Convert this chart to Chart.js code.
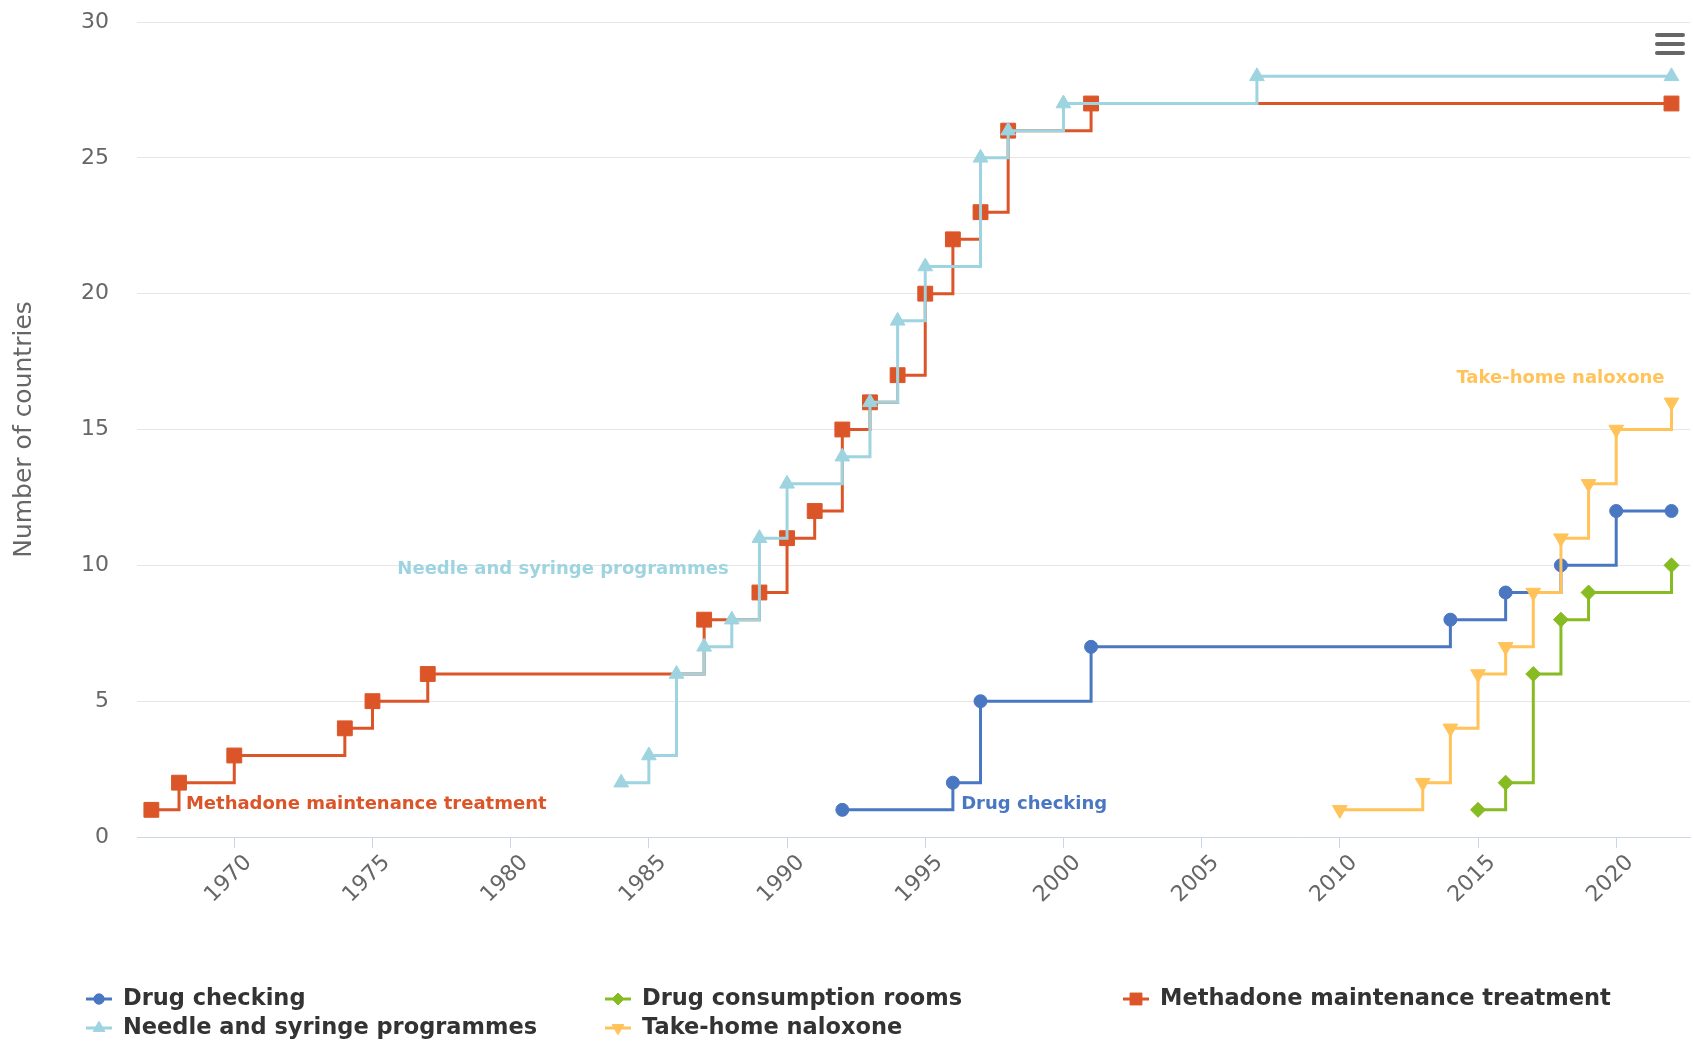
<!DOCTYPE html>
<html>
<head>
<meta charset="utf-8">
<title>Harm reduction interventions</title>
<script src="https://cdn.jsdelivr.net/npm/chart.js@4.4.1/dist/chart.umd.min.js"></script>
<style>
  body { margin: 0; background: #fff; }
  #wrap { width: 1693px; height: 1042px; position: relative; }
</style>
</head>
<body>
<div id="wrap"><canvas id="stepChart"></canvas></div>
<script>
// --- DATA ---
const seriesNames = ['Drug checking', 'Drug consumption rooms', 'Methadone maintenance treatment', 'Needle and syringe programmes', 'Take-home naloxone'];

const drugCheckingYears = [1992, 1996, 1997, 2001, 2014, 2016, 2018, 2020, 2022];
const drugCheckingCounts = [1, 2, 5, 7, 8, 9, 10, 12, 12];

const consumptionRoomYears = [2015, 2016, 2017, 2018, 2019, 2022];
const consumptionRoomCounts = [1, 2, 6, 8, 9, 10];

const methadoneYears = [1967, 1968, 1970, 1974, 1975, 1977, 1987, 1989, 1990, 1991, 1992, 1993, 1994, 1995, 1996, 1997, 1998, 2001, 2022];
const methadoneCounts = [1, 2, 3, 4, 5, 6, 8, 9, 11, 12, 15, 16, 17, 20, 22, 23, 26, 27, 27];

const needleYears = [1984, 1985, 1986, 1987, 1988, 1989, 1990, 1992, 1993, 1994, 1995, 1997, 1998, 2000, 2007, 2022];
const needleCounts = [2, 3, 6, 7, 8, 11, 13, 14, 16, 19, 21, 25, 26, 27, 28, 28];

const naloxoneYears = [2010, 2013, 2014, 2015, 2016, 2017, 2018, 2019, 2020, 2022];
const naloxoneCounts = [1, 2, 4, 6, 7, 9, 11, 13, 15, 16];

const yearTicks = [1970, 1975, 1980, 1985, 1990, 1995, 2000, 2005, 2010, 2015, 2020];
const countTicks = [0, 5, 10, 15, 20, 25, 30];

// --- STYLE ---
const FONT = 'DejaVu Sans';
const colors = ['#4a77c1', '#86bb22', '#dc5528', '#9dd4e0', '#ffc35a'];
const markerStyles = ['circle', 'rectRot', 'rect', 'triangle', 'triangle'];
const markerRadius = [6.5, 7.5, 10.5, 8.5, 8.5];
const markerRotation = [0, 0, 0, 0, 180];

// label teks seri di dalam plot (posisi dalam koordinat data)
const seriesLabels = [
    { series: 0, x: 1996.3, y: 1.2, align: 'left' },
    { series: 2, x: 1968.25, y: 1.2, align: 'left' },
    { series: 3, x: 1975.9, y: 9.85, align: 'left' },
    { series: 4, x: 2021.75, y: 16.9, align: 'right' }
];

function toPoints(years, counts) {
    return years.map((yr, i) => ({ x: yr, y: counts[i] }));
}

const allSeries = [
    toPoints(drugCheckingYears, drugCheckingCounts),
    toPoints(consumptionRoomYears, consumptionRoomCounts),
    toPoints(methadoneYears, methadoneCounts),
    toPoints(needleYears, needleCounts),
    toPoints(naloxoneYears, naloxoneCounts)
];

const datasets = allSeries.map((pts, i) => ({
    label: seriesNames[i],
    data: pts,
    stepped: true,
    borderColor: colors[i],
    backgroundColor: colors[i],
    borderWidth: 3,
    pointStyle: markerStyles[i],
    pointRadius: markerRadius[i],
    pointRotation: markerRotation[i],
    pointBorderWidth: 1,
    pointBorderColor: colors[i],
    pointBackgroundColor: colors[i],
    fill: false,
    clip: false,
    order: allSeries.length - i
}));

// --- PLUGIN: label seri, legenda, tombol menu ---
const extrasPlugin = {
    id: 'extras',
    afterDatasetsDraw(chart) {
        const ctx = chart.ctx;
        const xs = chart.scales.x, ys = chart.scales.y;
        ctx.save();
        ctx.font = `600 18px "${FONT}"`;
        ctx.textBaseline = 'middle';
        seriesLabels.forEach(lbl => {
            ctx.fillStyle = colors[lbl.series];
            ctx.textAlign = lbl.align;
            ctx.fillText(seriesNames[lbl.series], xs.getPixelForValue(lbl.x), ys.getPixelForValue(lbl.y));
        });
        ctx.restore();
    },
    afterDraw(chart) {
        const ctx = chart.ctx;
        ctx.save();
        // legenda
        const colX = [86, 605, 1123];
        const rowY = [999, 1028];
        ctx.font = `bold 22.5px "${FONT}"`;
        ctx.textBaseline = 'middle';
        ctx.textAlign = 'left';
        chart.data.datasets.forEach((ds, i) => {
            const x = colX[i % 3];
            const y = rowY[Math.floor(i / 3)];
            ctx.strokeStyle = colors[i];
            ctx.fillStyle = colors[i];
            ctx.lineWidth = 3;
            ctx.beginPath();
            ctx.moveTo(x, y);
            ctx.lineTo(x + 26, y);
            ctx.stroke();
            ctx.lineWidth = 1;
            Chart.helpers.drawPoint(ctx, {
                pointStyle: markerStyles[i],
                radius: markerRadius[i] * 0.8,
                rotation: markerRotation[i],
                borderWidth: 1
            }, x + 13, y);
            ctx.fillStyle = '#333333';
            ctx.fillText(ds.label, x + 37, y);
        });
        // ikon menu
        ctx.strokeStyle = '#666666';
        ctx.lineWidth = 4;
        ctx.lineCap = 'round';
        [35, 44, 53].forEach(yy => {
            ctx.beginPath();
            ctx.moveTo(1657, yy);
            ctx.lineTo(1683, yy);
            ctx.stroke();
        });
        ctx.restore();
    }
};

// --- RENDER ---
const ctx = document.getElementById('stepChart').getContext('2d');
window.stepChart = new Chart(ctx, {
    type: 'line',
    data: { datasets: datasets },
    plugins: [extrasPlugin],
    options: {
        responsive: true,
        maintainAspectRatio: false,
        animation: false,
        layout: { autoPadding: false, padding: { top: 22, right: 3, left: 0, bottom: 0 } },
        plugins: {
            legend: { display: false },
            tooltip: { enabled: false }
        },
        scales: {
            x: {
                type: 'linear',
                min: 1966.48,
                max: 2022.67,
                afterBuildTicks: axis => { axis.ticks = yearTicks.map(v => ({ value: v })); },
                afterFit: scale => {
                    scale.height = 205;
                    scale.paddingLeft = 0;
                    scale.paddingRight = 0;
                },
                ticks: {
                    minRotation: 45,
                    maxRotation: 45,
                    padding: 2,
                    labelOffset: 14,
                    color: '#666666',
                    font: { family: FONT, size: 22 },
                    callback: v => String(v)
                },
                grid: {
                    drawOnChartArea: false,
                    drawTicks: true,
                    tickLength: 11,
                    color: '#ccd6eb'
                },
                border: { color: '#ccd6eb', width: 1 }
            },
            y: {
                min: 0,
                max: 30,
                afterBuildTicks: axis => { axis.ticks = countTicks.map(v => ({ value: v })); },
                afterFit: scale => {
                    scale.width = 137;
                    scale.paddingTop = 0;
                    scale.paddingBottom = 0;
                },
                ticks: {
                    padding: 28,
                    color: '#666666',
                    font: { family: FONT, size: 22 }
                },
                grid: { color: '#e6e6e6', drawTicks: false },
                border: { display: false },
                title: {
                    display: true,
                    text: 'Number of countries',
                    color: '#666666',
                    font: { family: FONT, size: 25 },
                    padding: { top: 9, bottom: 0 }
                }
            }
        }
    }
});
</script>
</body>
</html>
